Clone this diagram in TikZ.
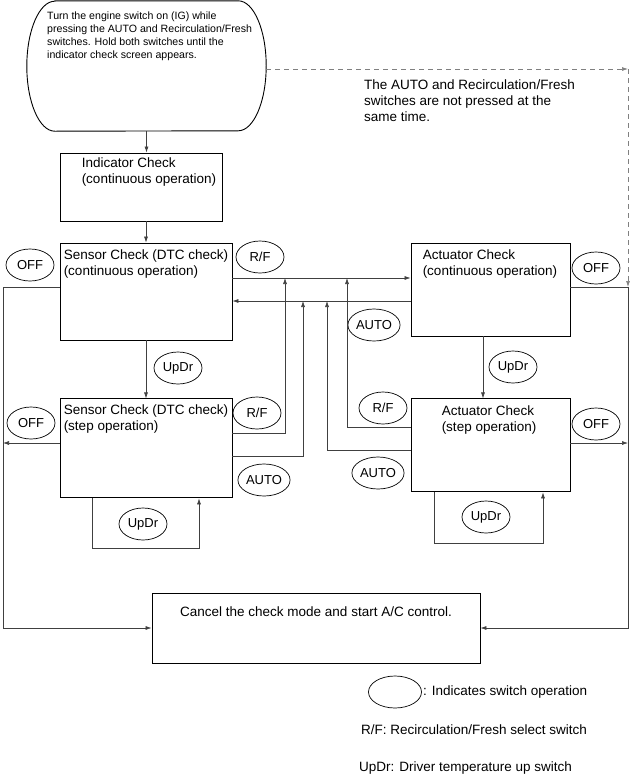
\documentclass[tikz,border=0pt]{standalone}
\usepackage{fontspec}
\setmainfont{Liberation Sans}
\usetikzlibrary{shapes.geometric,arrows.meta,positioning}
\tikzset{
  startbox/.style={rectangle,minimum width=239pt,minimum height=130pt,inner sep=0pt},
  box/.style={rectangle,draw,line width=0.9pt,inner sep=0pt},
  sw/.style={ellipse,draw,line width=0.7pt,minimum width=48pt,minimum height=32pt,inner sep=0.5pt,font=\fontsize{13}{15}\selectfont},
  txt/.style={inner sep=0pt,align=left,font=\fontsize{13.5}{16}\selectfont},
  link/.style={line width=0.6pt,draw=black!75,-{Latex[length=6pt,width=4pt]}},
  note/.style={dash pattern=on 5pt off 4pt,draw=black!50,line width=0.7pt,-{Latex[length=6pt,width=4pt]}}
}
\begin{document}
\begin{tikzpicture}[x=1pt,y=-1pt]
\useasboundingbox (0,0) rectangle (632,777);
% start and check boxes
\node[startbox] (start) at (146.5,66) {};
\draw[line width=0.9pt] ([xshift=28pt]start.north west) -- ([xshift=-28pt]start.north east)
  arc[start angle=90,end angle=-90,x radius=28pt,y radius=65pt] -- ([xshift=28pt]start.south west)
  arc[start angle=270,end angle=90,x radius=28pt,y radius=65pt] -- cycle;
\node[txt,anchor=north west,font=\fontsize{10.6}{13}\selectfont] (starttxt) at (47,12) {Turn the engine switch on (IG) while\\pressing the AUTO and Recirculation/Fresh\\switches. Hold both switches until the\\indicator check screen appears.};
\node[box,minimum width=162pt,minimum height=68pt] (ind) at (141,187) {};
\node[txt,anchor=north west] (indtxt) at ([shift={(22,5)}]ind.north west) {Indicator Check\\(continuous operation)};
\node[box,minimum width=172pt,minimum height=97pt] (sensA) at (146,291.5) {};
\node[txt,anchor=north west] (sensAtxt) at ([shift={(4,7)}]sensA.north west) {Sensor Check (DTC check)\\(continuous operation)};
\node[box,minimum width=172pt,minimum height=99pt,below=58pt of sensA] (sensB) {};
\node[txt,anchor=north west] (sensBtxt) at ([shift={(4,6)}]sensB.north west) {Sensor Check (DTC check)\\(step operation)};
\node[box,minimum width=159pt,minimum height=93pt] (actA) at (490.5,289.5) {};
\node[txt,anchor=north west] (actAtxt) at ([shift={(12,7)}]actA.north west) {Actuator Check\\(continuous operation)};
\node[box,minimum width=159pt,minimum height=93pt,below=62pt of actA] (actB) {};
\node[txt,anchor=north west] (actBtxt) at ([shift={(31,7)}]actB.north west) {Actuator Check\\(step operation)};
\node[box,minimum width=328pt,minimum height=70pt] (cancel) at (316,628) {};
\node[txt,anchor=north] (canceltxt) at ([shift={(0,14)}]cancel.north) {Cancel the check mode and start A/C control.};
\node[txt,anchor=north west] (notetxt) at (364,80) {The AUTO and Recirculation/Fresh\\switches are not pressed at the\\same time.};
% switch marks
\node[sw] (offA) at (30,265) {OFF};
\node[sw] (rfA) at (260,257) {R/F};
\node[sw] (updrA) at (178,368) {UpDr};
\node[sw] (offB) at (31,423) {OFF};
\node[sw] (rfB) at (257,413) {R/F};
\node[sw] (autoB) at (264,480) {AUTO};
\node[sw] (updrB) at (143,524) {UpDr};
\node[sw] (offC) at (596,268) {OFF};
\node[sw] (autoC) at (374,325) {AUTO};
\node[sw] (updrC) at (513,367) {UpDr};
\node[sw] (rfD) at (383,408) {R/F};
\node[sw] (autoD) at (378,473) {AUTO};
\node[sw] (offD) at (596,424) {OFF};
\node[sw] (updrD) at (486,517) {UpDr};
% legend
\node[sw,minimum width=53pt] (legsw) at (395,692) {};
\node[txt,anchor=west] (legtxt) at ([xshift=1pt]legsw.east) {: Indicates switch operation};
\node[txt,anchor=west] (legrf) at (361,730) {R/F: Recirculation/Fresh select switch};
\node[txt,anchor=west] (legupdr) at (359,768) {UpDr: Driver temperature up switch};
% rows and columns of the connectors
\coordinate (rowOff) at (0,287);
\coordinate (rowFwd) at (0,278);
\coordinate (rowBack) at (0,301);
\coordinate (rowStepOff) at (0,443);
\coordinate (rowRFs) at (0,433);
\coordinate (rowAUs) at (0,456);
\coordinate (rowRFa) at (0,427);
\coordinate (rowAUa) at (0,450);
\coordinate (colL) at (3,0);
\coordinate (colR) at (628,0);
\coordinate (colRFs) at (285,0);
\coordinate (colAUs) at (303,0);
\coordinate (colAUa) at (327,0);
\coordinate (colRFa) at (347,0);
\coordinate (cornerR) at (628,69);
% connectors
\draw[link] (start.south) -- (start.south |- ind.north);
\draw[link] (sensA.north |- ind.south) -- (sensA.north);
\draw[link] (sensA) -- (sensB);
\draw[link] ([xshift=-7.5pt]actA.south) -- ([xshift=-7.5pt]actB.north);
\draw[link] (sensA.west |- rowOff) -| (colL |- cancel.west) -- (cancel.west);
\draw[link] (actA.east |- rowOff) -| (colR |- cancel.east) -- (cancel.east);
\draw[link] (sensB.west |- rowStepOff) -- (colL |- rowStepOff);
\draw[link] (actB.east |- rowStepOff) -- (colR |- rowStepOff);
\draw[link] (sensA.east |- rowFwd) -- (actA.west |- rowFwd);
\draw[link] (actA.west |- rowBack) -- (sensA.east |- rowBack);
\draw[link] (sensB.east |- rowRFs) -| (colRFs |- rowFwd);
\draw[link] (sensB.east |- rowAUs) -| (colAUs |- rowBack);
\draw[link] (actB.west |- rowAUa) -| (colAUa |- rowBack);
\draw[link] (actB.west |- rowRFa) -| (colRFa |- rowFwd);
\draw[link] ([xshift=-54pt]sensB.south) -- ++(0,50) -| ([xshift=53pt]sensB.south);
\draw[link] ([xshift=-56.5pt]actB.south) -- ++(0,51) -| ([xshift=52.5pt]actB.south);
\draw[note] (start.east |- cornerR) -- (cornerR);
\draw[note] (cornerR) -- (cornerR |- rowOff);
\end{tikzpicture}
\end{document}
